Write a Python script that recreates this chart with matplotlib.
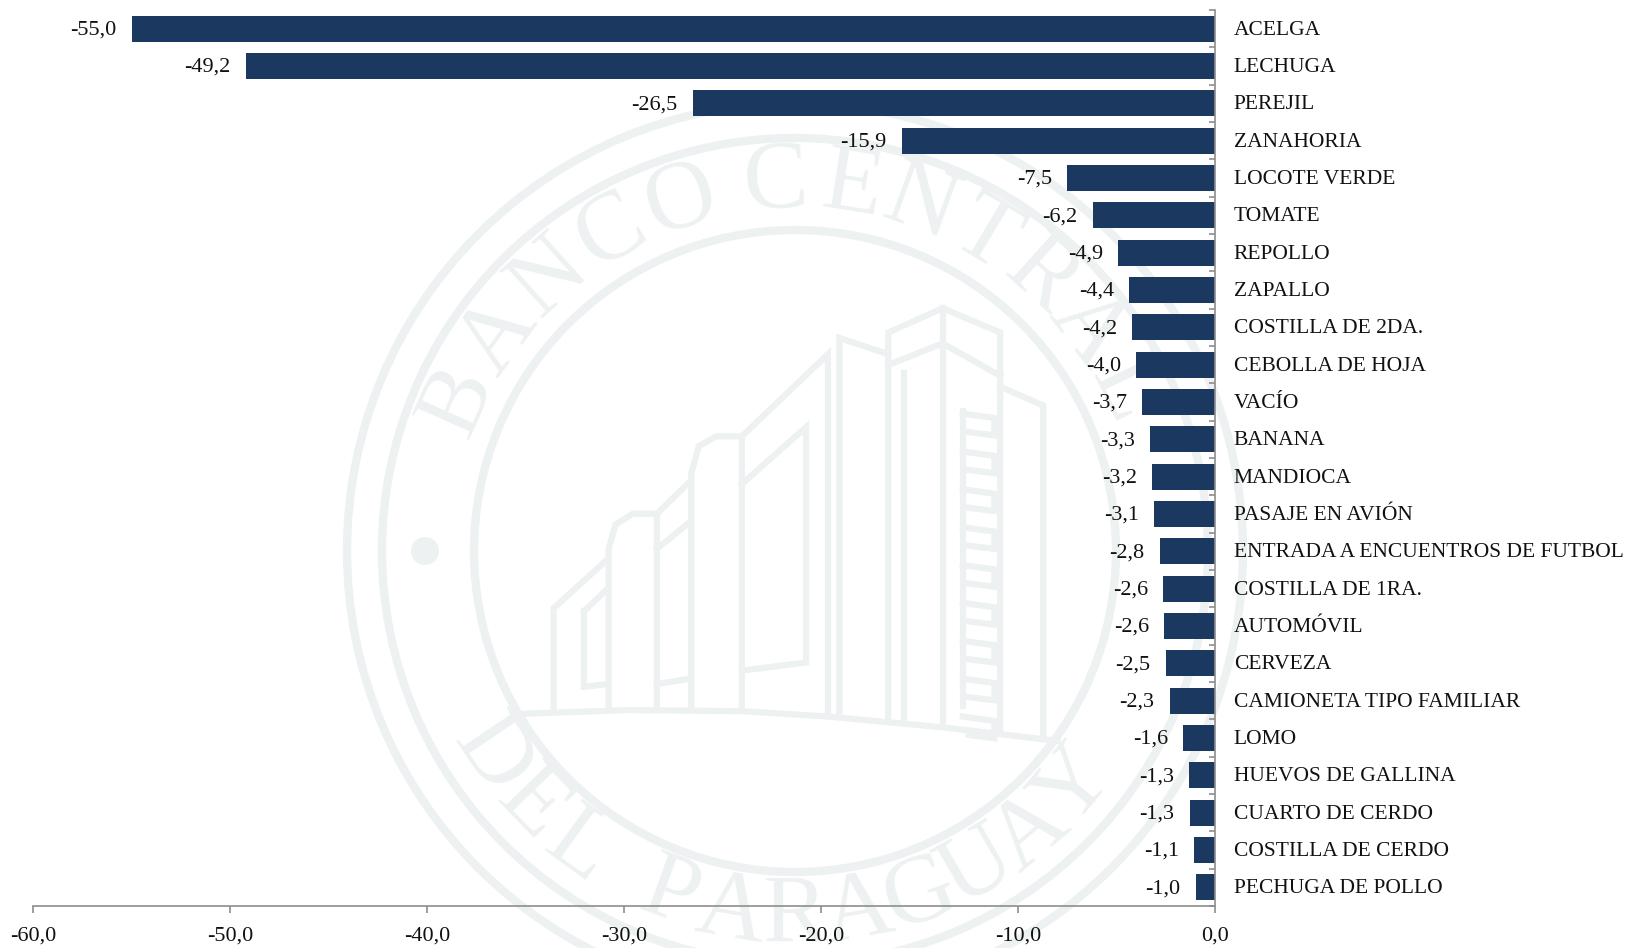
import numpy as np
from matplotlib import pyplot as plt
from matplotlib.patches import Circle
from matplotlib.transforms import ScaledTranslation

plt.rcParams['font.family'] = ['Liberation Serif', 'DejaVu Serif']

W, H = 1631, 948
categories = ['ACELGA', 'LECHUGA', 'PEREJIL', 'ZANAHORIA', 'LOCOTE VERDE', 'TOMATE', 'REPOLLO',
              'ZAPALLO', 'COSTILLA DE 2DA.', 'CEBOLLA DE HOJA', 'VACÍO', 'BANANA', 'MANDIOCA',
              'PASAJE EN AVIÓN', 'ENTRADA A ENCUENTROS DE FUTBOL', 'COSTILLA DE 1RA.', 'AUTOMÓVIL',
              'CERVEZA', 'CAMIONETA TIPO FAMILIAR', 'LOMO', 'HUEVOS DE GALLINA', 'CUARTO DE CERDO',
              'COSTILLA DE CERDO', 'PECHUGA DE POLLO']
values = [-55.0, -49.2, -26.5, -15.9, -7.5, -6.2, -4.9, -4.36, -4.2, -4.0, -3.7, -3.3, -3.2, -3.1,
          -2.8, -2.62, -2.58, -2.5, -2.3, -1.6, -1.32, -1.28, -1.06, -0.97]
x_ticks = [-60, -50, -40, -30, -20, -10, 0]

NAVY = '#1A3860'
GREY = '#8E8E8E'
MARK = '#EDF1F2'

fig = plt.figure(figsize=(W / 100, H / 100), dpi=100)

# watermark, in pixel coordinates of the figure
wm = fig.add_axes([0, 0, 1, 1], zorder=0)
wm.set_xlim(0, W)
wm.set_ylim(H, 0)
wm.axis('off')
cx, cy = 795, 551
for r, lw in [(448, 6), (413, 6), (321, 6)]:
    wm.add_patch(Circle((cx, cy), r, fill=False, ec=MARK, lw=lw))
wm.add_patch(Circle((425, 551), 14, fc=MARK, ec='none'))

top_letters = list(zip('BANCOCENTRAL', [-66, -54, -42, -30, -18, -3, 9, 20, 31, 42, 53, 64]))
bottom_letters = list(zip('DELPARAGUAY', [-56, -46, -36, -20, -10, 0, 10, 20, 30, 40, 50]))
for ch, a in top_letters:
    t = np.radians(a)
    wm.text(cx + 367 * np.sin(t), cy - 367 * np.cos(t), ch, color=MARK, fontsize=70,
            rotation=-a, rotation_mode='anchor', ha='center', va='center')
for ch, a in bottom_letters:
    t = np.radians(a)
    wm.text(cx + 367 * np.sin(t), cy + 367 * np.cos(t), ch, color=MARK, fontsize=70,
            rotation=a, rotation_mode='anchor', ha='center', va='center', clip_on=True)

# building outline (crop scale 1.742 x 1.849)
building = [
    [(315, 1135), (500, 1128), (700, 1130), (850, 1140), (1050, 1160), (1250, 1185)],
    [(372, 1130), (372, 940), (465, 850)],
    [(425, 945), (465, 905)],
    [(425, 945), (425, 1085), (465, 1080)],
    [(468, 1125), (468, 830), (480, 785), (510, 765), (552, 765), (552, 1125)],
    [(552, 765), (610, 705)],
    [(552, 830), (610, 780)],
    [(552, 1080), (610, 1070)],
    [(612, 1125), (612, 690), (625, 640), (655, 622), (700, 622), (700, 1128)],
    [(700, 622), (850, 470), (850, 1135)],
    [(700, 710), (812, 605), (812, 1040), (700, 1055)],
    [(870, 1135), (870, 440), (955, 470)],
    [(955, 1145), (955, 430), (1050, 385), (1150, 430), (1150, 1165)],
    [(955, 490), (1050, 450), (1150, 510)],
    [(1050, 385), (1050, 1155)],
    [(983, 1148), (983, 505)],
    [(1150, 530), (1225, 565), (1225, 1175)],
    [(1085, 575), (1085, 1120)],
]
for rung in range(580, 1150, 70):
    building.append([(1085, rung), (1140, rung + 8), (1140, rung + 40), (1095, rung + 34)])
for line in building:
    px = [(x / 1.742 + 340, y / 1.849 + 100) for x, y in line]
    wm.plot(*zip(*px), color=MARK, lw=4.5, solid_joinstyle='miter')

# chart
ax = fig.add_axes([33 / W, 1 - 906 / H, (1215 - 33) / W, (906 - 10) / H], zorder=1)
ax.patch.set_alpha(0)
y = np.arange(len(categories))
ax.barh(y, values, height=0.7, color=NAVY)
ax.set_xlim(-60, 0)
ax.set_ylim(len(categories) - 0.5, -0.5)

for i, v in enumerate(values):
    ax.annotate(f'{v:.1f}'.replace('.', ','), (v, i), xytext=(-11, -1), textcoords='offset points',
                ha='right', va='center', fontsize=16, color='#111111')

for s in ['top', 'left']:
    ax.spines[s].set_visible(False)
for s in ['right', 'bottom']:
    ax.spines[s].set_color(GREY)
    ax.spines[s].set_linewidth(1.2)

ax.set_xticks(x_ticks)
ax.set_xticklabels([f'{v:.1f}'.replace('.', ',') for v in x_ticks], fontsize=16, color='#111111')
ax.tick_params(axis='x', length=5, width=1.2, color=GREY, pad=10)

ax.yaxis.tick_right()
ax.set_yticks(y)
ax.set_yticklabels(categories, fontsize=15.5, color='#111111')
ax.set_yticks(np.arange(len(categories) + 1) - 0.5, minor=True)
ax.tick_params(axis='y', which='major', length=0, pad=13.5)
ax.tick_params(axis='y', which='minor', length=4.5, width=1.2, color=GREY, direction='in')
up = ScaledTranslation(0, 1 / 100, fig.dpi_scale_trans)
for lab in ax.get_yticklabels():
    lab.set_transform(lab.get_transform() + up)

fig.savefig('out.png', dpi=100)
